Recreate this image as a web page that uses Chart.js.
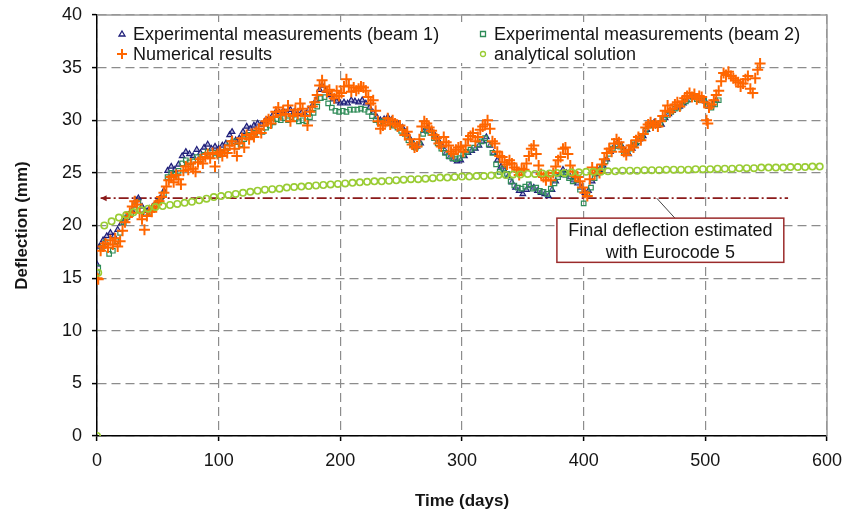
<!DOCTYPE html>
<html>
<head>
<meta charset="utf-8">
<title>Deflection over time</title>
<script src="https://cdn.jsdelivr.net/npm/chart.js@4/dist/chart.umd.min.js"></script>
<style>
  html, body { margin: 0; padding: 0; background: #fff; }
  #wrap { width: 848px; height: 514px; position: relative; }
</style>
</head>
<body>
<div id="wrap"><canvas id="deflection"></canvas></div>
<script>
// Measured deflection, beam 1 (days, mm)
const beam1Days = [0, 2, 5, 8, 11, 14, 17, 20, 23, 26, 29, 32, 34, 37, 40, 43, 46, 49, 52, 55, 58, 61, 64, 67, 70, 73, 76, 79, 82, 85, 88, 91, 94, 97, 100, 103, 106, 109, 111, 114, 117, 120, 123, 126, 129, 132, 135, 138, 141, 144, 147, 150, 153, 156, 159, 162, 165, 168, 171, 174, 177, 180, 183, 185, 188, 191, 194, 197, 200, 203, 206, 209, 212, 215, 218, 221, 224, 227, 230, 233, 236, 239, 242, 245, 248, 251, 254, 257, 260, 263, 266, 269, 272, 275, 278, 281, 284, 287, 290, 293, 296, 299, 302, 305, 308, 311, 314, 317, 320, 323, 326, 329, 332, 335, 338, 341, 344, 347, 350, 353, 356, 359, 362, 365, 368, 371, 374, 377, 380, 383, 386, 389, 392, 395, 398, 401, 404, 407, 410, 413, 416, 419, 422, 425, 428, 431, 434, 437, 440, 443, 446, 449, 452, 455, 458, 461, 464, 467, 470, 473, 476, 479, 482, 485, 488, 491, 494, 497, 500, 503, 506, 509];
const beam1Defl = [16.3, 18.0, 18.6, 19.0, 19.3, 19.0, 19.6, 20.2, 20.6, 21.0, 21.4, 22.4, 22.6, 21.8, 21.4, 21.6, 21.8, 22.2, 22.6, 23.3, 25.2, 25.6, 25.3, 25.8, 26.6, 27.0, 26.8, 26.6, 27.2, 26.9, 27.4, 27.7, 27.3, 27.5, 27.3, 27.6, 27.8, 28.6, 28.9, 28.1, 28.3, 28.9, 29.4, 29.2, 29.5, 29.7, 29.6, 29.9, 30.1, 30.4, 30.8, 30.7, 30.9, 30.7, 31.0, 30.8, 30.6, 30.7, 30.6, 31.0, 31.4, 31.9, 32.9, 33.3, 32.8, 32.4, 32.0, 31.8, 31.6, 31.7, 31.6, 31.9, 31.8, 31.7, 31.9, 31.6, 31.2, 30.7, 30.3, 30.0, 30.1, 30.3, 30.0, 29.8, 29.6, 29.3, 28.9, 28.3, 27.8, 27.5, 27.8, 29.0, 29.3, 29.0, 28.5, 28.0, 27.5, 26.9, 26.5, 26.3, 26.1, 26.2, 26.6, 26.9, 27.1, 27.3, 27.6, 28.0, 28.4, 27.6, 26.9, 26.2, 25.6, 25.2, 24.7, 24.1, 23.6, 23.3, 23.0, 23.4, 23.8, 23.6, 23.3, 23.1, 23.0, 22.8, 23.4, 24.2, 24.8, 25.3, 25.0, 24.6, 24.3, 24.0, 23.6, 23.1, 23.3, 24.2, 24.9, 25.3, 25.7, 26.3, 27.0, 27.5, 27.9, 27.6, 27.1, 26.8, 27.3, 27.8, 28.2, 28.5, 29.1, 29.6, 29.8, 29.5, 29.6, 30.2, 30.6, 30.9, 31.2, 31.3, 31.6, 31.9, 32.2, 32.3, 32.1, 32.0, 31.8, 31.3, 31.5, 31.9];

// Measured deflection, beam 2 (days, mm)
const beam2Days = [0, 1, 4, 7, 10, 13, 16, 19, 22, 25, 28, 31, 34, 37, 40, 43, 46, 49, 52, 55, 58, 61, 64, 67, 70, 73, 76, 79, 82, 85, 88, 91, 94, 97, 100, 103, 106, 109, 112, 115, 118, 121, 124, 127, 130, 133, 136, 139, 142, 145, 148, 151, 154, 157, 160, 163, 166, 169, 172, 175, 178, 181, 184, 187, 190, 193, 196, 199, 202, 205, 208, 211, 214, 217, 220, 223, 226, 229, 232, 235, 238, 241, 244, 247, 250, 253, 256, 259, 262, 265, 268, 271, 274, 277, 280, 283, 286, 289, 292, 295, 298, 301, 304, 307, 310, 313, 316, 319, 322, 325, 328, 331, 334, 337, 340, 343, 346, 349, 352, 355, 358, 361, 364, 367, 370, 373, 376, 379, 382, 385, 388, 391, 394, 397, 400, 403, 406, 409, 412, 415, 418, 421, 424, 427, 430, 433, 436, 439, 442, 445, 448, 451, 454, 457, 460, 463, 466, 469, 472, 475, 478, 481, 484, 487, 490, 493, 496, 499, 502, 505, 508, 511];
const beam2Defl = [15.6, 16.0, 17.9, 18.4, 17.3, 17.6, 18.5, 19.3, 20.3, 20.8, 21.1, 21.9, 22.2, 21.5, 21.2, 21.3, 21.6, 22.0, 22.4, 23.0, 24.6, 25.0, 24.8, 25.2, 25.9, 26.2, 26.0, 26.1, 26.5, 26.3, 26.7, 27.0, 26.7, 26.9, 26.7, 26.9, 27.1, 27.8, 28.0, 27.5, 27.7, 28.2, 28.6, 28.5, 28.8, 29.0, 28.9, 29.3, 29.5, 29.8, 30.1, 30.0, 30.2, 30.0, 30.3, 30.1, 29.9, 30.0, 29.9, 30.3, 30.7, 31.3, 32.1, 32.2, 31.6, 31.2, 30.9, 30.8, 30.9, 30.8, 31.0, 31.0, 31.0, 31.1, 31.0, 30.8, 30.4, 30.0, 29.8, 29.9, 30.0, 29.7, 29.5, 29.3, 29.0, 28.7, 28.1, 27.7, 27.4, 27.7, 28.7, 29.0, 28.8, 28.3, 27.8, 27.3, 26.9, 26.6, 26.4, 26.3, 26.4, 26.7, 27.0, 27.2, 27.4, 27.7, 28.0, 28.3, 27.7, 26.9, 25.8, 25.1, 25.4, 24.9, 24.2, 23.8, 23.6, 23.5, 23.7, 23.9, 23.5, 23.6, 23.3, 23.2, 23.0, 23.5, 24.0, 24.6, 25.0, 24.8, 24.5, 24.2, 24.3, 23.4, 22.1, 23.0, 23.6, 24.5, 25.1, 25.5, 26.1, 26.8, 27.3, 27.7, 27.5, 27.0, 26.9, 27.3, 27.7, 28.0, 28.4, 29.0, 29.5, 29.7, 29.6, 29.7, 30.1, 30.5, 30.8, 31.1, 31.2, 31.5, 31.8, 32.0, 32.2, 32.0, 31.9, 31.9, 31.4, 31.2, 31.5, 31.9];

// Numerical model results (days, mm)
const numDays = [0, 1, 3, 5, 7, 9, 11, 13, 15, 17, 19, 21, 23, 25, 27, 29, 31, 33, 35, 37, 39, 41, 43, 45, 47, 49, 51, 53, 55, 57, 59, 61, 63, 65, 67, 69, 71, 73, 75, 77, 79, 81, 83, 85, 87, 89, 91, 93, 95, 97, 99, 101, 103, 105, 107, 109, 111, 113, 115, 117, 119, 121, 123, 125, 127, 129, 131, 133, 135, 137, 139, 141, 143, 145, 147, 149, 151, 153, 155, 157, 159, 161, 163, 165, 167, 169, 171, 173, 175, 177, 179, 181, 183, 185, 187, 189, 191, 193, 195, 197, 199, 201, 203, 205, 207, 209, 211, 213, 215, 217, 219, 221, 223, 225, 227, 229, 231, 233, 235, 237, 239, 241, 243, 245, 247, 249, 251, 253, 255, 257, 259, 261, 263, 265, 267, 269, 271, 273, 275, 277, 279, 281, 283, 285, 287, 289, 291, 293, 295, 297, 299, 301, 303, 305, 307, 309, 311, 313, 315, 317, 319, 321, 323, 325, 327, 329, 331, 333, 335, 337, 339, 341, 343, 345, 347, 349, 351, 353, 355, 357, 359, 361, 363, 365, 367, 369, 371, 373, 375, 377, 379, 381, 383, 385, 387, 389, 391, 393, 395, 397, 399, 401, 403, 405, 407, 409, 411, 413, 415, 417, 419, 421, 423, 425, 427, 429, 431, 433, 435, 437, 439, 441, 443, 445, 447, 449, 451, 453, 455, 457, 459, 461, 463, 465, 467, 469, 471, 473, 475, 477, 479, 481, 483, 485, 487, 489, 491, 493, 495, 497, 499, 501, 502, 503, 505, 507, 509, 511, 513, 515, 517, 519, 521, 523, 525, 527, 529, 531, 533, 535, 537, 539, 541, 543, 545];
const numDefl = [15.0, 14.9, 17.6, 18.0, 18.3, 17.9, 18.6, 18.2, 18.8, 18.0, 18.5, 19.5, 20.3, 20.8, 21.2, 21.8, 22.3, 22.0, 21.2, 20.6, 19.6, 20.9, 21.4, 21.3, 21.7, 22.0, 22.3, 22.7, 23.1, 23.7, 24.3, 24.6, 24.1, 24.8, 24.4, 23.9, 25.2, 25.6, 25.3, 25.9, 25.4, 25.1, 26.0, 26.3, 25.9, 26.5, 26.8, 26.4, 26.9, 25.6, 26.8, 27.0, 26.6, 27.2, 26.9, 27.6, 28.0, 27.3, 26.6, 27.8, 28.3, 27.4, 28.6, 28.2, 28.7, 28.4, 28.9, 29.2, 28.8, 29.5, 29.9, 30.1, 29.7, 30.3, 30.8, 31.2, 30.5, 30.9, 30.6, 31.4, 29.9, 30.4, 31.0, 30.6, 31.6, 31.1, 30.4, 29.5, 30.8, 31.3, 31.7, 32.4, 33.3, 33.8, 33.2, 32.7, 32.9, 32.4, 32.1, 32.8, 32.3, 32.6, 33.2, 33.9, 33.3, 32.7, 33.1, 32.8, 33.0, 33.2, 33.1, 32.8, 32.2, 31.6, 31.9, 30.9, 29.9, 29.2, 29.5, 29.8, 30.2, 29.6, 30.0, 29.7, 29.4, 29.5, 29.1, 28.6, 28.9, 28.2, 27.7, 27.4, 27.5, 28.2, 29.4, 29.9, 29.7, 29.3, 29.0, 28.6, 28.3, 27.8, 27.5, 28.4, 27.9, 27.6, 27.0, 26.8, 27.2, 27.4, 27.5, 27.0, 27.6, 28.2, 28.5, 28.8, 28.0, 28.4, 29.1, 29.4, 29.6, 30.0, 29.2, 28.0, 27.8, 27.0, 26.6, 26.5, 26.0, 25.8, 26.2, 25.9, 25.5, 25.3, 24.8, 25.4, 25.3, 25.9, 26.6, 27.3, 27.6, 26.8, 25.7, 24.9, 24.6, 24.3, 24.7, 24.3, 25.0, 25.6, 26.2, 26.5, 27.3, 27.4, 26.8, 25.7, 25.1, 24.7, 24.6, 24.2, 23.6, 23.1, 22.8, 24.4, 25.5, 24.9, 25.3, 25.0, 25.8, 26.3, 26.9, 27.3, 27.0, 27.8, 28.2, 27.9, 27.4, 27.0, 26.7, 27.2, 27.6, 27.4, 28.1, 28.4, 28.1, 28.7, 29.3, 29.6, 29.8, 29.5, 29.7, 29.4, 29.9, 30.4, 30.9, 31.4, 30.8, 31.1, 31.5, 31.7, 31.3, 31.8, 32.1, 32.3, 32.6, 32.2, 32.5, 32.0, 32.3, 32.2, 31.7, 30.0, 29.7, 31.2, 31.5, 31.9, 32.4, 32.8, 33.7, 34.5, 34.3, 34.6, 34.2, 34.0, 33.8, 33.6, 33.2, 33.5, 33.9, 34.2, 33.0, 32.6, 34.0, 34.8, 35.4];

// Analytical creep solution (days, mm)
const analyticalDays = [0, 1, 6, 12, 18, 24, 30, 36, 42, 48, 54, 60, 66, 72, 78, 84, 90, 96, 102, 108, 114, 120, 126, 132, 138, 144, 150, 156, 162, 168, 174, 180, 186, 192, 198, 204, 210, 216, 222, 228, 234, 240, 246, 252, 258, 264, 270, 276, 282, 288, 294, 300, 306, 312, 318, 324, 330, 336, 342, 348, 354, 360, 366, 372, 378, 384, 390, 396, 402, 408, 414, 420, 426, 432, 438, 444, 450, 456, 462, 468, 474, 480, 486, 492, 498, 504, 510, 516, 522, 528, 534, 540, 546, 552, 558, 564, 570, 576, 582, 588, 594];
const analyticalDefl = [0, 15.5, 20.0, 20.4, 20.75, 21.0, 21.25, 21.45, 21.6, 21.75, 21.85, 21.95, 22.05, 22.15, 22.25, 22.4, 22.55, 22.7, 22.8, 22.9, 23.0, 23.1, 23.2, 23.3, 23.4, 23.45, 23.5, 23.6, 23.65, 23.7, 23.75, 23.8, 23.85, 23.9, 23.95, 24.0, 24.05, 24.1, 24.15, 24.2, 24.2, 24.25, 24.3, 24.35, 24.4, 24.4, 24.45, 24.5, 24.55, 24.55, 24.6, 24.65, 24.65, 24.7, 24.7, 24.75, 24.8, 24.8, 24.85, 24.85, 24.9, 24.9, 24.95, 24.95, 25.0, 25.0, 25.05, 25.05, 25.1, 25.1, 25.1, 25.15, 25.15, 25.2, 25.2, 25.2, 25.25, 25.25, 25.25, 25.3, 25.3, 25.3, 25.3, 25.35, 25.35, 25.35, 25.4, 25.4, 25.4, 25.45, 25.45, 25.45, 25.5, 25.5, 25.5, 25.5, 25.55, 25.55, 25.55, 25.6, 25.6];

// Eurocode 5 final deflection and its note
const eurocodeDefl = 22.6;
const eurocodeFrom = 3;
const eurocodeTo = 568;
const noteLines = ['Final deflection estimated', 'with Eurocode 5'];

const FONT = '"Liberation Sans", Arial, sans-serif';
const TEXT = '#151515';

function pts(days, vals) {
  return days.map((d, i) => ({ x: d, y: vals[i] }));
}

// legend entries: label + marker kind, in two columns
const legendItems = [
  { label: 'Experimental measurements (beam 1)', marker: 'triangle', color: '#1f1f7a', col: 0, row: 0 },
  { label: 'Experimental measurements (beam 2)', marker: 'square', color: '#2e8b57', col: 1, row: 0 },
  { label: 'Numerical results', marker: 'cross', color: '#ff6600', col: 0, row: 1 },
  { label: 'analytical solution', marker: 'circle', color: '#99cc33', col: 1, row: 1 }
];

function drawMarker(ctx, kind, cx, cy) {
  ctx.beginPath();
  if (kind === 'triangle') {
    ctx.moveTo(cx, cy - 3); ctx.lineTo(cx + 3, cy + 2); ctx.lineTo(cx - 3, cy + 2); ctx.closePath();
  } else if (kind === 'square') {
    ctx.rect(cx - 2.5, cy - 2.5, 5, 5);
  } else if (kind === 'cross') {
    ctx.moveTo(cx - 5, cy); ctx.lineTo(cx + 5, cy); ctx.moveTo(cx, cy - 5); ctx.lineTo(cx, cy + 5);
  } else {
    ctx.arc(cx, cy, 2.5, 0, Math.PI * 2);
  }
  ctx.stroke();
}

const decorations = {
  id: 'decorations',
  beforeDatasetsDraw(chart) {
    const { ctx, chartArea: a } = chart;
    ctx.save();
    // top and right frame
    ctx.strokeStyle = '#9a9a9a';
    ctx.lineWidth = 1.5;
    ctx.beginPath();
    ctx.moveTo(a.left, a.top); ctx.lineTo(a.right, a.top); ctx.lineTo(a.right, a.bottom);
    ctx.stroke();

    // legend sits inside the plot on a white ground
    ctx.fillStyle = '#fff';
    ctx.fillRect(a.left + 13, a.top + 7, 705, 41);
    ctx.font = '18px ' + FONT;
    ctx.textBaseline = 'alphabetic';
    legendItems.forEach(it => {
      const mx = a.left + (it.col ? 386 : 25);
      const base = a.top + 25 + it.row * 20;
      ctx.strokeStyle = it.color;
      ctx.lineWidth = it.marker === 'cross' ? 2 : 1.3;
      drawMarker(ctx, it.marker, mx, base - 6);
      ctx.fillStyle = TEXT;
      ctx.fillText(it.label, mx + 11, base);
    });
    ctx.restore();
  },
  afterDatasetsDraw(chart) {
    const { ctx, scales: { x, y } } = chart;
    ctx.save();
    // arrow head at the start of the Eurocode line
    const ax = x.getPixelForValue(eurocodeFrom);
    const ay = y.getPixelForValue(eurocodeDefl);
    ctx.fillStyle = '#8b1a1a';
    ctx.beginPath();
    ctx.moveTo(ax, ay); ctx.lineTo(ax + 6, ay - 3); ctx.lineTo(ax + 6, ay + 3); ctx.closePath();
    ctx.fill();

    // leader from the line to the note
    ctx.strokeStyle = '#444';
    ctx.lineWidth = 1;
    ctx.beginPath();
    ctx.moveTo(x.getPixelForValue(460), ay);
    ctx.lineTo(x.getPixelForValue(475), y.getPixelForValue(20.7));
    ctx.stroke();

    // note box
    const bx1 = x.getPixelForValue(378), bx2 = x.getPixelForValue(564.5);
    const by1 = y.getPixelForValue(20.7), by2 = y.getPixelForValue(16.5);
    ctx.fillStyle = '#fff';
    ctx.fillRect(bx1, by1, bx2 - bx1, by2 - by1);
    ctx.strokeStyle = '#9b2b2b';
    ctx.lineWidth = 1.5;
    ctx.strokeRect(bx1, by1, bx2 - bx1, by2 - by1);
    ctx.fillStyle = TEXT;
    ctx.font = '18px ' + FONT;
    ctx.textAlign = 'center';
    ctx.textBaseline = 'alphabetic';
    noteLines.forEach((t, i) => ctx.fillText(t, (bx1 + bx2) / 2, by1 + 18 + i * 21.5));
    ctx.restore();
  }
};

const ctx = document.getElementById('deflection').getContext('2d');

const data = {
  datasets: [
    {
      label: 'Eurocode 5',
      type: 'line',
      data: [{ x: eurocodeFrom, y: eurocodeDefl }, { x: eurocodeTo, y: eurocodeDefl }],
      borderColor: '#8b1a1a',
      borderWidth: 1.8,
      borderDash: [10, 3, 2, 3],
      pointRadius: 0,
      fill: false,
      order: 5
    },
    {
      label: 'Experimental measurements (beam 1)',
      data: pts(beam1Days, beam1Defl),
      pointStyle: 'triangle',
      pointRadius: 3.2,
      borderWidth: 1.2,
      borderColor: '#1f1f7a',
      backgroundColor: 'rgba(90,90,170,0.45)',
      order: 4
    },
    {
      label: 'Experimental measurements (beam 2)',
      data: pts(beam2Days, beam2Defl),
      pointStyle: 'rect',
      pointRadius: 3.2,
      borderWidth: 1.2,
      borderColor: '#2e8b57',
      backgroundColor: 'rgba(255,255,255,0.2)',
      order: 3
    },
    {
      label: 'Numerical results',
      data: pts(numDays, numDefl),
      pointStyle: 'cross',
      pointRadius: 5.5,
      borderWidth: 2,
      borderColor: '#ff6600',
      order: 2
    },
    {
      label: 'analytical solution',
      data: pts(analyticalDays, analyticalDefl),
      pointStyle: 'circle',
      pointRadius: 3.2,
      borderWidth: 1.6,
      borderColor: '#99cc33',
      backgroundColor: 'rgba(255,255,255,0)',
      order: 1
    }
  ]
};

// the scales ask for room around their edge labels; the layout padding below decides instead
function noEdgePadding(s) {
  s.paddingTop = 0;
  s.paddingBottom = 0;
  s.paddingLeft = 0;
  s.paddingRight = 0;
}

const config = {
  type: 'scatter',
  data: data,
  plugins: [decorations],
  options: {
    responsive: true,
    maintainAspectRatio: false,
    animation: false,
    events: [],
    layout: { padding: { top: 15, right: 21, left: 0, bottom: 0 } },
    plugins: {
      legend: { display: false },
      tooltip: { enabled: false }
    },
    scales: {
      x: {
        type: 'linear',
        min: 0,
        max: 600,
        ticks: { stepSize: 100, color: TEXT, padding: 9, font: { size: 18 } },
        grid: { color: '#8c8c8c', lineWidth: 1.2, tickColor: '#000', tickLength: 5, tickWidth: 1.5 },
        border: { color: '#000', width: 1.5, dash: [9, 5] },
        title: { display: true, text: 'Time (days)', color: TEXT, font: { size: 17, weight: 'bold' }, padding: { top: 0, bottom: 2 } },
        afterFit: s => { s.height = 78; noEdgePadding(s); }
      },
      y: {
        type: 'linear',
        min: 0,
        max: 40,
        ticks: { stepSize: 5, color: TEXT, padding: 10, font: { size: 18 } },
        grid: { color: '#8c8c8c', lineWidth: 1.2, tickColor: '#000', tickLength: 5, tickWidth: 1.5 },
        border: { color: '#000', width: 1.5, dash: [9, 5] },
        title: { display: true, text: 'Deflection (mm)', color: TEXT, font: { size: 17, weight: 'bold' }, padding: { top: 12, bottom: 0 } },
        afterFit: s => { s.width = 97; noEdgePadding(s); }
      }
    }
  }
};

Chart.defaults.font.family = FONT;
const chart = new Chart(ctx, config);
</script>
</body>
</html>
